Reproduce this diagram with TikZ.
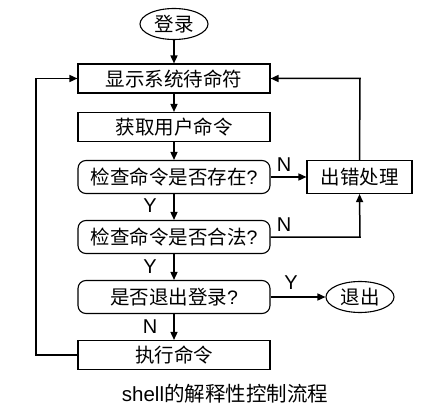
\documentclass[tikz,border=0pt]{standalone}
\usepackage{fontspec}
\setmainfont{Liberation Sans}
\newfontfamily\cjk{Noto Sans CJK SC}
\usetikzlibrary{arrows.meta,shapes.geometric}
\begin{document}
\begin{tikzpicture}[x=1pt,y=-1pt,
  box/.style={draw,line width=1.1pt,minimum width=192pt,minimum height=29pt,inner sep=0pt,font=\cjk\fontsize{19.5}{22}\selectfont},
  rbox/.style={box,rounded corners=8pt,minimum height=33pt},
  oval/.style={draw,ellipse,line width=1.1pt,minimum width=68pt,minimum height=31pt,inner sep=0pt,font=\cjk\fontsize{19.5}{22}\selectfont},
  arr/.style={line width=1.5pt,-{Triangle[length=8pt,width=7pt]}},
  lbl/.style={font=\fontsize{20}{22}\selectfont,inner sep=0pt}]
\useasboundingbox (0,0) rectangle (434,417);
\node[oval] (login) at (174,24) {登录};
\node[box] (show) at (174,78.5) {显示系统待命符};
\node[box] (get) at (174,127) {获取用户命令};
\node[rbox] (exist) at (174,177) {检查命令是否存在\fontspec{Liberation Sans}?};
\node[box,minimum width=105pt,minimum height=33pt] (err) at (359.5,177) {出错处理};
\node[rbox] (legal) at (174,237) {检查命令是否合法\fontspec{Liberation Sans}?};
\node[rbox] (quit) at (174,297) {是否退出登录\fontspec{Liberation Sans}?};
\node[oval] (exit) at (360,297) {退出};
\node[box] (exec) at (174,355) {执行命令};
\node[font=\fontsize{20.5}{22}\selectfont,inner sep=0pt] (cap) at (225,394) {shell{\cjk 的解释性控制流程}};
\coordinate (ll) at (36,355);
\coordinate (lu) at (36,78.5);
\coordinate (ru) at (360,78.5);
\coordinate (rl) at (360,237);
\draw[arr] (login) -- (show);
\draw[arr] (show) -- (get);
\draw[arr] (get) -- (exist);
\draw[arr] (exist) -- (legal);
\draw[arr] (legal) -- (quit);
\draw[arr] (quit) -- (exec);
\draw[arr] (exist) -- (err);
\draw[arr] (quit) -- (exit);
\draw[arr] (legal.east) -- (rl) -- (err.south);
\draw[arr] (err.north) -- (ru) -- (show.east);
\draw[arr] (exec.west) -- (ll) -- (lu) -- (show.west);
\node[lbl] (n1) at (284,165) {N};
\node[lbl] (n2) at (284,225) {N};
\node[lbl] (y1) at (150,206) {Y};
\node[lbl] (y2) at (150,267) {Y};
\node[lbl] (y3) at (291,283) {Y};
\node[lbl] (n3) at (150,327) {N};
\end{tikzpicture}
\end{document}
